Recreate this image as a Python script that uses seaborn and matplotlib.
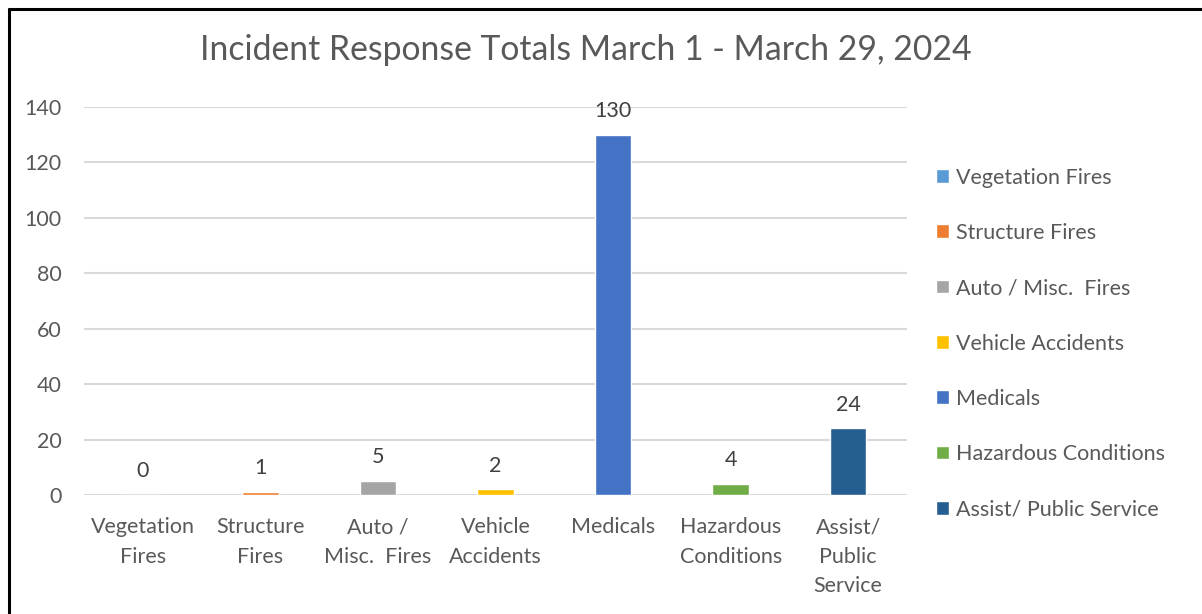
import matplotlib
matplotlib.use("Agg")
import matplotlib.pyplot as plt
from matplotlib.lines import Line2D
import seaborn as sns
import pandas as pd

# data
categories = ["Vegetation Fires", "Structure Fires", "Auto / Misc.  Fires", "Vehicle Accidents",
              "Medicals", "Hazardous Conditions", "Assist/ Public Service"]
tick_labels = ["Vegetation\nFires", "Structure\nFires", "Auto /\nMisc.  Fires", "Vehicle\nAccidents",
               "Medicals", "Hazardous\nConditions", "Assist/\nPublic\nService"]
totals = [0, 1, 5, 2, 130, 4, 24]
colors = ["#5B9BD5", "#ED7D31", "#A5A5A5", "#FFC000", "#4472C4", "#70AD47", "#255E91"]

df = pd.DataFrame({"category": categories, "total": totals})

sns.set_style("white")
plt.rcParams["font.family"] = ["Lato", "DejaVu Sans"]
text_col = "#595959"

fig = plt.figure(figsize=(12.02, 6.14), dpi=100)
ax = fig.add_axes([84 / 1202, 1 - 495 / 614, (907 - 84) / 1202, (495 - 107) / 614])

sns.barplot(data=df, x="category", y="total", hue="category", palette=colors,
            saturation=1, width=0.31, dodge=False, legend=True, ax=ax)

ax.set_ylim(0, 140)
ax.set_yticks(range(0, 141, 20))
ax.yaxis.grid(True, color="#D9D9D9", linewidth=1.5)
ax.set_axisbelow(True)
for s in ax.spines.values():
    s.set_visible(False)
ax.set_xlabel("")
ax.set_ylabel("")
ax.set_xticks(range(len(categories)))
ax.set_xticklabels(tick_labels, linespacing=1.6)
ax.tick_params(axis="x", length=0, pad=16, labelsize=15.5, labelcolor=text_col)
ax.tick_params(axis="y", length=0, pad=16, labelsize=15.5, labelcolor=text_col)

for c in ax.containers:
    ax.bar_label(c, padding=10, fontsize=15.5, color="#404040")

handles, labels = ax.get_legend_handles_labels()
ax.get_legend().remove()
fig.legend(handles, labels, loc="center left", bbox_to_anchor=(936 / 1202, 1 - 343.5 / 614),
           frameon=False, fontsize=15.5, labelcolor=text_col, handlelength=0.6, handleheight=0.6,
           handletextpad=0.35, labelspacing=1.64, borderpad=0, borderaxespad=0)

fig.text(586 / 1202, 1 - 50 / 614, "Incident Response Totals March 1 - March 29, 2024",
         ha="center", va="center", fontsize=24.3, color=text_col)

# border on top and left
fig.add_artist(Line2D([9 / 1202, 1], [1 - 9 / 614, 1 - 9 / 614], color="black", linewidth=2.2,
                      transform=fig.transFigure))
fig.add_artist(Line2D([9 / 1202, 9 / 1202], [0, 1 - 9 / 614], color="black", linewidth=2.2,
                      transform=fig.transFigure))

fig.savefig("out.png", dpi=100)
